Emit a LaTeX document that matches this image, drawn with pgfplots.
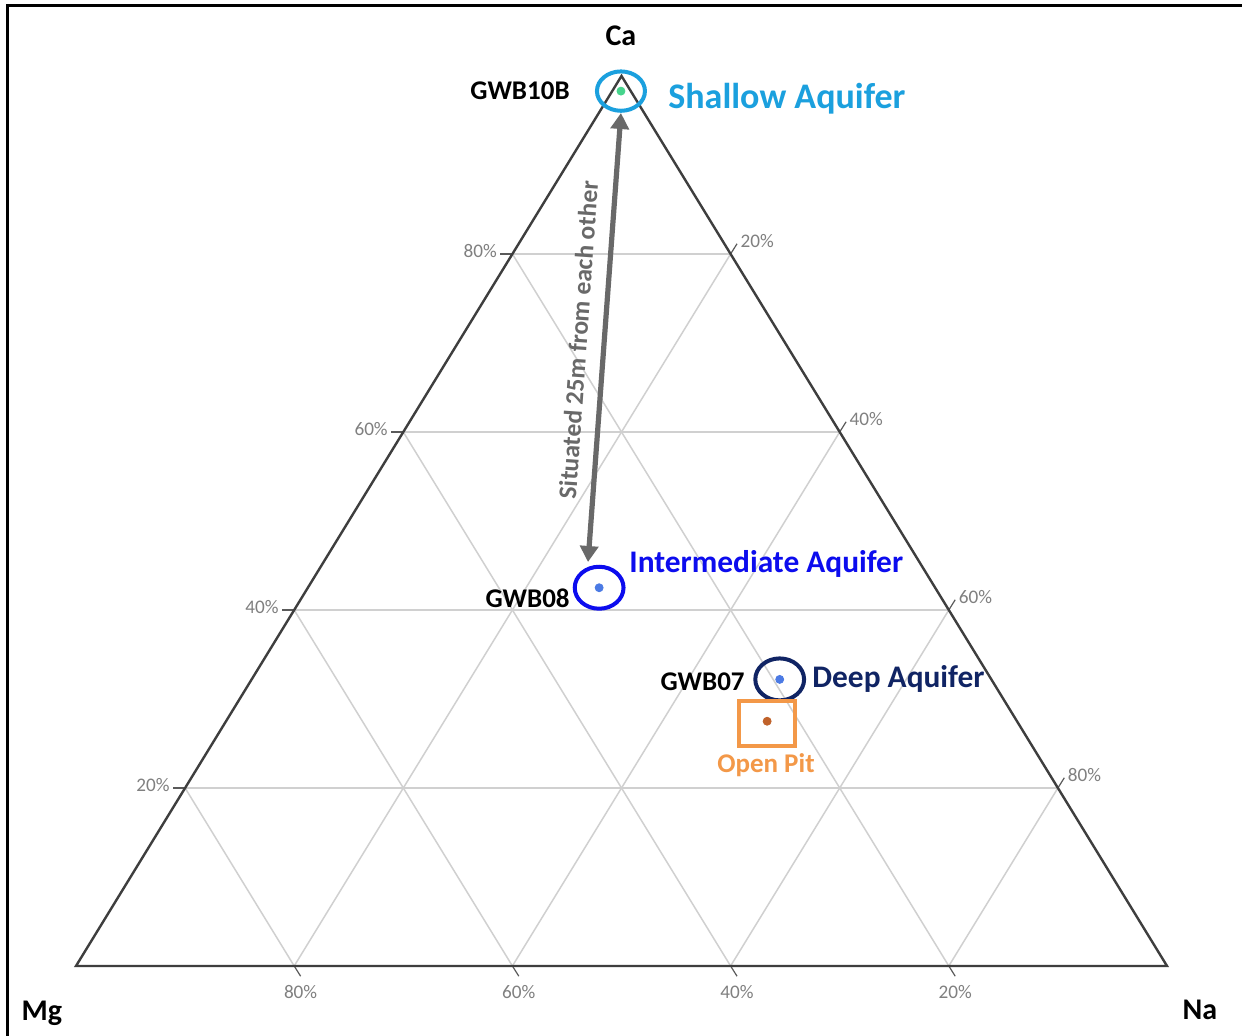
\documentclass[border=0pt]{standalone}
\usepackage{fontspec}
\setmainfont{Carlito}
\usepackage{pgfplots}
\pgfplotsset{compat=1.18}
\usepackage{pgfplotstable}
\usetikzlibrary{arrows.meta}

\definecolor{shallow}{RGB}{27,160,222}
\definecolor{interm}{RGB}{12,12,238}
\definecolor{deep}{RGB}{16,36,100}
\definecolor{pit}{RGB}{243,152,72}
\definecolor{dotgreen}{RGB}{70,212,140}
\definecolor{dotblue}{RGB}{75,122,228}
\definecolor{dotbrown}{RGB}{192,98,42}
\definecolor{edgegray}{RGB}{62,62,62}
\definecolor{gridgray}{RGB}{208,208,208}
\definecolor{tickgray}{RGB}{128,128,128}
\definecolor{notegray}{RGB}{105,105,105}

% Cation compositions in percent (Ca, Mg, Na)
\pgfplotstableread{
Ca Mg Na
98.3 0.9 0.8
}\shallowdata
\pgfplotstableread{
Ca Mg Na
42.5 30.8 26.7
}\intermdata
\pgfplotstableread{
Ca Mg Na
32.2 19.4 48.4
}\deepdata
\pgfplotstableread{
Ca Mg Na
27.5 22.9 49.6
}\pitdata

% ternary (Ca, Mg, Na) -> planar coordinates of the triangle
\pgfplotsset{/pgfplots/table/ternpt/.style={
  /pgfplots/table/x expr=\thisrow{Na}/100+\thisrow{Ca}/200,
  /pgfplots/table/y expr=\thisrow{Ca}/100}}

\tikzset{
  gridline/.style={gridgray, line width=0.75pt},
  tickmk/.style={tickgray!70!black, line width=0.6pt},
  ticklab/.style={text=tickgray, font=\fontsize{9.6}{11}\selectfont, inner sep=0pt},
}

\begin{document}
\begin{tikzpicture}
\begin{axis}[
  scale only axis, width=621pt, height=518pt,
  xmin=-0.06966, xmax=1.06874, ymin=-0.07865, ymax=1.08539,
  hide axis, clip=true,
]
% page background and frame
\fill[white] (rel axis cs:0,0) rectangle (rel axis cs:1,1);
\draw[black, line width=1.5pt] (axis cs:-0.06324,-0.2) -- (axis cs:-0.06324,1.07865) -- (axis cs:1.2,1.07865);

% grid: constant Ca
\addplot[gridline] coordinates {(0.1,0.2) (0.9,0.2)};
\addplot[gridline] coordinates {(0.2,0.4) (0.8,0.4)};
\addplot[gridline] coordinates {(0.3,0.6) (0.7,0.6)};
\addplot[gridline] coordinates {(0.4,0.8) (0.6,0.8)};
% grid: constant Na
\addplot[gridline] coordinates {(0.2,0) (0.6,0.8)};
\addplot[gridline] coordinates {(0.4,0) (0.7,0.6)};
\addplot[gridline] coordinates {(0.6,0) (0.8,0.4)};
\addplot[gridline] coordinates {(0.8,0) (0.9,0.2)};
% grid: constant Mg
\addplot[gridline] coordinates {(0.4,0.8) (0.8,0)};
\addplot[gridline] coordinates {(0.3,0.6) (0.6,0)};
\addplot[gridline] coordinates {(0.2,0.4) (0.4,0)};
\addplot[gridline] coordinates {(0.1,0.2) (0.2,0)};

% Ca ticks (left edge)
\draw[tickmk] (axis cs:0.4,0.8) -- ++(-6pt,0pt) node[ticklab, anchor=east, xshift=-1.5pt, yshift=1.5pt] {80\%};
\draw[tickmk] (axis cs:0.3,0.6) -- ++(-6pt,0pt) node[ticklab, anchor=east, xshift=-1.5pt, yshift=1.5pt] {60\%};
\draw[tickmk] (axis cs:0.2,0.4) -- ++(-6pt,0pt) node[ticklab, anchor=east, xshift=-1.5pt, yshift=1.5pt] {40\%};
\draw[tickmk] (axis cs:0.1,0.2) -- ++(-6pt,0pt) node[ticklab, anchor=east, xshift=-1.5pt, yshift=1.5pt] {20\%};
% Na ticks (right edge)
\draw[tickmk] (axis cs:0.6,0.8) -- ++(3.2pt,5.1pt) node[ticklab, anchor=west, xshift=1.5pt, yshift=1.5pt] {20\%};
\draw[tickmk] (axis cs:0.7,0.6) -- ++(3.2pt,5.1pt) node[ticklab, anchor=west, xshift=1.5pt, yshift=1.5pt] {40\%};
\draw[tickmk] (axis cs:0.8,0.4) -- ++(3.2pt,5.1pt) node[ticklab, anchor=west, xshift=1.5pt, yshift=1.5pt] {60\%};
\draw[tickmk] (axis cs:0.9,0.2) -- ++(3.2pt,5.1pt) node[ticklab, anchor=west, xshift=1.5pt, yshift=1.5pt] {80\%};
% Mg ticks (bottom edge)
\draw[tickmk] (axis cs:0.2,0) -- ++(3.2pt,-5.1pt) node[ticklab, anchor=north, yshift=-4.5pt] {80\%};
\draw[tickmk] (axis cs:0.4,0) -- ++(3.2pt,-5.1pt) node[ticklab, anchor=north, yshift=-4.5pt] {60\%};
\draw[tickmk] (axis cs:0.6,0) -- ++(3.2pt,-5.1pt) node[ticklab, anchor=north, yshift=-4.5pt] {40\%};
\draw[tickmk] (axis cs:0.8,0) -- ++(3.2pt,-5.1pt) node[ticklab, anchor=north, yshift=-4.5pt] {20\%};

% triangle outline
\addplot[edgegray, line width=1.2pt, line join=miter] coordinates {(0,0) (1,0) (0.5,1) (0,0) (1,0)};

% corner labels
\node[font=\bfseries\fontsize{15}{18}\selectfont] at (axis cs:0.4995,1.0449) {Ca};
\node[font=\bfseries\fontsize{15}{18}\selectfont] at (axis cs:-0.0312,-0.0528) {Mg};
\node[font=\bfseries\fontsize{15}{18}\selectfont] at (axis cs:1.0302,-0.0494) {Na};

% distance note between the two wells
\draw[notegray, line width=2.6pt, {Triangle[width=9pt,length=8pt]}-{Triangle[width=9pt,length=8pt]}]
  (axis cs:0.4995,0.9584) -- (axis cs:0.4693,0.4539);
\node[text=notegray, rotate=86, font=\bfseries\fontsize{12.8}{15}\selectfont] at (axis cs:0.4603,0.7034) {Situated 25m from each other};

% samples
\addplot[only marks, mark=*, mark size=2pt, color=dotgreen] table[ternpt] {\shallowdata};
\addplot[only marks, mark=o, mark size=12pt, color=shallow, mark options={line width=2pt, yscale=0.82}] table[ternpt] {\shallowdata};
\addplot[only marks, mark=*, mark size=2pt, color=dotblue] table[ternpt] {\intermdata};
\addplot[only marks, mark=o, mark size=12.2pt, color=interm, mark options={line width=2pt, yscale=0.86}] table[ternpt] {\intermdata};
\addplot[only marks, mark=*, mark size=2pt, color=dotblue] table[ternpt] {\deepdata};
\addplot[only marks, mark=o, mark size=12.2pt, color=deep, mark options={line width=2pt, yscale=0.86}] table[ternpt] {\deepdata};
\addplot[only marks, mark=*, mark size=2pt, color=dotbrown] table[ternpt] {\pitdata};
\addplot[only marks, mark=square, mark size=14pt, color=pit, mark options={line width=2pt, yscale=0.80, yshift=-1.25pt}] table[ternpt] {\pitdata};

% sample labels
\node[anchor=east, inner sep=0pt, font=\bfseries\fontsize{13.5}{16}\selectfont] at (axis cs:0.4528,0.9831) {GWB10B};
\node[anchor=east, inner sep=0pt, font=\bfseries\fontsize{13.5}{16}\selectfont] at (axis cs:0.4528,0.4135) {GWB08};
\node[anchor=east, inner sep=0pt, font=\bfseries\fontsize{13.5}{16}\selectfont] at (axis cs:0.6132,0.3191) {GWB07};
\node[anchor=west, inner sep=0pt, text=shallow, font=\bfseries\fontsize{18}{21}\selectfont] at (axis cs:0.5426,0.9740) {Shallow Aquifer};
\node[anchor=west, inner sep=0pt, text=interm, font=\bfseries\fontsize{15.7}{19}\selectfont] at (axis cs:0.5069,0.4515) {Intermediate Aquifer};
\node[anchor=west, inner sep=0pt, text=deep, font=\bfseries\fontsize{15.7}{19}\selectfont] at (axis cs:0.6746,0.3225) {Deep Aquifer};
\node[inner sep=0pt, text=pit, font=\bfseries\fontsize{13.5}{16}\selectfont] at (axis cs:0.6324,0.2260) {Open Pit};
\end{axis}
\pgfresetboundingbox
\path[use as bounding box] (current axis.south west) rectangle (current axis.north east);
\end{tikzpicture}
\end{document}
